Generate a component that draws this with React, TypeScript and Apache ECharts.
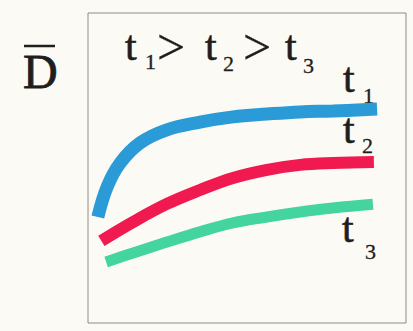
import React, { useEffect, useRef } from "react";
import * as echarts from "echarts";

// Curves (x: time-like axis 0..10, y: D̄ 0..10)
const t1X = [0.31, 0.6, 1.01, 1.64, 2.48, 3.52, 4.56, 5.63, 6.67, 7.7, 9.09];
const t1Y = [3.42, 4.39, 5.16, 5.81, 6.23, 6.48, 6.65, 6.74, 6.81, 6.84, 6.9];
const t2X = [0.42, 1.42, 2.48, 3.52, 4.56, 5.63, 6.67, 7.7, 8.99];
const t2Y = [2.65, 3.26, 3.84, 4.29, 4.68, 4.94, 5.1, 5.16, 5.19];
const t3X = [0.57, 1.42, 2.48, 3.52, 4.56, 5.63, 6.67, 7.7, 8.96];
const t3Y = [1.97, 2.26, 2.61, 2.94, 3.23, 3.42, 3.58, 3.71, 3.83];

const seriesNames = ["t1", "t2", "t3"];
const seriesColors = ["#2a9bd6", "#f01a50", "#44d4a0"];
const seriesWidths = [13, 12, 11];

const zip = (xs: number[], ys: number[]) => xs.map((x, i) => [x, ys[i]]);

const FONT = "Liberation Serif";
const INK = "#1e1e1e";

const txt = (text: string, x: number, y: number, size: number, stroke = 0.6) => ({
  type: "text",
  x,
  y,
  style: {
    text,
    fill: INK,
    stroke: INK,
    lineWidth: stroke,
    fontFamily: FONT,
    fontSize: size,
    align: "left",
    verticalAlign: "middle",
  },
});

export default function App() {
  const ref = useRef<HTMLDivElement>(null);
  useEffect(() => {
    if (!ref.current) return;
    const chart = echarts.init(ref.current, undefined, { renderer: "svg" });
    const data = [zip(t1X, t1Y), zip(t2X, t2Y), zip(t3X, t3Y)];
    chart.setOption({
      animation: false,
      backgroundColor: "#fcfaf5",
      grid: {
        left: 88,
        top: 13,
        width: 318,
        height: 310,
        show: true,
        borderColor: "#8c8c8c",
        borderWidth: 1,
        backgroundColor: "transparent",
      },
      xAxis: { type: "value", min: 0, max: 10, show: false },
      yAxis: { type: "value", min: 0, max: 10, show: false },
      series: data.map((d, i) => ({
        name: seriesNames[i],
        type: "line",
        data: d,
        smooth: 0.4,
        symbol: "none",
        lineStyle: { color: seriesColors[i], width: seriesWidths[i], cap: "butt" },
      })),
      graphic: [
        // D̄
        txt("D", 23, 71, 48, 0.8),
        {
          type: "line",
          shape: { x1: 24, y1: 46, x2: 55, y2: 46 },
          style: { stroke: INK, lineWidth: 2.5 },
        },
        // title t1 > t2 > t3
        txt("t", 125, 46, 42),
        txt("1", 145, 61, 22, 0.3),
        txt(">", 157, 46.5, 50, 0.3),
        txt("t", 205, 46, 42),
        txt("2", 223, 63, 22, 0.3),
        txt(">", 243, 46.5, 50, 0.3),
        txt("t", 285, 46, 42),
        txt("3", 303, 65, 22, 0.3),
        // right labels
        txt("t", 343, 78, 42),
        txt("1", 363, 95, 22, 0.3),
        txt("t", 343, 129, 42),
        txt("2", 362, 145, 22, 0.3),
        txt("t", 342, 228, 42),
        txt("3", 365, 251, 22, 0.3),
      ],
    });
    return () => chart.dispose();
  }, []);
  return (
    <div
      ref={ref}
      style={{ position: "fixed", left: 0, top: 0, width: 413, height: 331 }}
    />
  );
}
